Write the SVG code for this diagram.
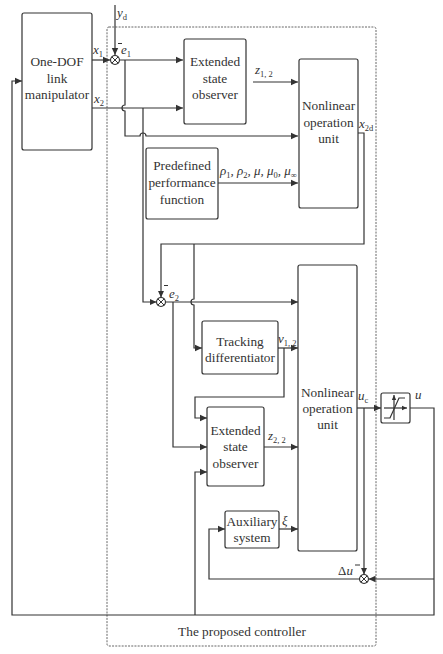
<svg xmlns="http://www.w3.org/2000/svg" width="443" height="654" viewBox="0 0 443 654" font-family="'Liberation Serif', 'Times New Roman', serif">
<style>
.box{fill:#fff;stroke:#333;stroke-width:1.2}
.ln{fill:none;stroke:#333;stroke-width:1.2}
.t{font-family:'Liberation Serif','Times New Roman',serif;font-size:13.3px;fill:#333;text-anchor:middle}
.m{font-family:'Liberation Serif','Times New Roman',serif;font-size:13px;fill:#333;font-style:italic}
.s{font-style:normal;font-size:8.5px;fill:#333}
.sum{fill:#fff;stroke:#333;stroke-width:1.1}
</style>
<defs>
<marker id="ar" markerUnits="userSpaceOnUse" markerWidth="8" markerHeight="8" viewBox="0 0 8 8" refX="7" refY="4" orient="auto">
<path d="M0,0.8 L7,4 L0,7.2 Z" fill="#333"/>
</marker>
<marker id="ars" markerUnits="userSpaceOnUse" markerWidth="6" markerHeight="6" viewBox="0 0 6 6" refX="5" refY="3" orient="auto">
<path d="M0,0.8 L5,3 L0,5.2 Z" fill="#333"/>
</marker>
<g id="sumsym">
<circle r="4.5" class="sum"/>
<path d="M-3.2,-3.2 L3.2,3.2 M-3.2,3.2 L3.2,-3.2" stroke="#333" stroke-width="1"/>
</g>
</defs>

<rect id="controller-boundary" x="107" y="27" width="269" height="619" rx="2" fill="none" stroke="#666" stroke-width="1" stroke-dasharray="2,1.2"/>
<text class="t" x="242" y="636">The proposed controller</text>

<g id="connectors">
<path class="ln" d="M115,5 V55" marker-end="url(#ar)"/>
<path class="ln" d="M92,60 H110" marker-end="url(#ar)"/>
<path class="ln" d="M119.5,60 H183" marker-end="url(#ar)"/>
<path class="ln" d="M92,108 H183" marker-end="url(#ar)"/>
<path class="ln" d="M125,60 V105 a3,3 0 0 0 0,6 V136 H140 a3,3 0 0 1 6,0 H298" marker-end="url(#ar)"/>
<path class="ln" d="M143,108 V302 H156.5" marker-end="url(#ar)"/>
<path class="ln" d="M253,82 H298" marker-end="url(#ar)"/>
<path class="ln" d="M218,183 H298" marker-end="url(#ar)"/>
<path class="ln" d="M358,133 H364 V244 H161 V297.5" marker-end="url(#ar)"/>
<path class="ln" d="M194,244 V299 a3,3 0 0 0 0,6 V348 H202" marker-end="url(#ar)"/>
<path class="ln" d="M165.5,302 H298" marker-end="url(#ar)"/>
<path class="ln" d="M173,302 V447 H207" marker-end="url(#ar)"/>
<path class="ln" d="M278,348 H298" marker-end="url(#ar)"/>
<path class="ln" d="M284,348 V397 H195 V418 H207" marker-end="url(#ar)"/>
<path class="ln" d="M264,447 H298" marker-end="url(#ar)"/>
<path class="ln" d="M195,615 V472 H207" marker-end="url(#ar)"/>
<path class="ln" d="M410,408 H434 V615 H12 V81 H22" marker-end="url(#ar)"/>
<path class="ln" d="M357,408 H381" marker-end="url(#ar)"/>
<path class="ln" d="M364,408 V574.5" marker-end="url(#ar)"/>
<path class="ln" d="M434,579 H368.5" marker-end="url(#ar)"/>
<path class="ln" d="M359.5,579 H209 V529 H225" marker-end="url(#ar)"/>
<path class="ln" d="M279,529 H298" marker-end="url(#ar)"/>
</g>

<g id="sum-e1"><use href="#sumsym" x="115" y="60"/></g>
<g id="sum-e2"><use href="#sumsym" x="161" y="302"/></g>
<g id="sum-du"><use href="#sumsym" x="364" y="579"/></g>

<g id="manipulator">
<rect class="box" x="22" y="13" width="70" height="137" rx="2"/>
<text class="t" x="57" y="66">One-DOF</text>
<text class="t" x="57" y="82.5">link</text>
<text class="t" x="57" y="99">manipulator</text>
</g>
<g id="eso1">
<rect class="box" x="184" y="39" width="62" height="85" rx="2"/>
<text class="t" x="215" y="66">Extended</text>
<text class="t" x="215" y="82.5">state</text>
<text class="t" x="215" y="99">observer</text>
</g>
<g id="nou1">
<rect class="box" x="299" y="59" width="59" height="149" rx="2"/>
<text class="t" x="328.5" y="110">Nonlinear</text>
<text class="t" x="328.5" y="126.5">operation</text>
<text class="t" x="328.5" y="143">unit</text>
</g>
<g id="ppf">
<rect class="box" x="146" y="148" width="72" height="71" rx="2"/>
<text class="t" x="182" y="170">Predefined</text>
<text class="t" x="182" y="187">performance</text>
<text class="t" x="182" y="203.5">function</text>
</g>
<g id="td">
<rect class="box" x="202" y="321" width="76" height="53" rx="2"/>
<text class="t" x="240" y="345.5">Tracking</text>
<text class="t" x="240" y="362">differentiator</text>
</g>
<g id="nou2">
<rect class="box" x="298" y="265" width="59" height="286" rx="2"/>
<text class="t" x="327.5" y="396.5">Nonlinear</text>
<text class="t" x="327.5" y="413">operation</text>
<text class="t" x="327.5" y="429">unit</text>
</g>
<g id="eso2">
<rect class="box" x="207" y="407" width="57" height="79" rx="2"/>
<text class="t" x="235.5" y="434.5">Extended</text>
<text class="t" x="235.5" y="451">state</text>
<text class="t" x="235.5" y="467.5">observer</text>
</g>
<g id="aux">
<rect class="box" x="225" y="511" width="54" height="37" rx="2"/>
<text class="t" x="252" y="525.5">Auxiliary</text>
<text class="t" x="252" y="542">system</text>
</g>
<g id="saturation">
<rect class="box" x="381" y="393" width="29" height="30" rx="2"/>
<path class="ln" d="M384,408 H407" stroke-width="1" marker-end="url(#ars)"/>
<path class="ln" d="M394,420 V395" stroke-width="1" marker-end="url(#ars)"/>
<path class="ln" d="M384,418 H390 L399,398 H405" stroke-width="1"/>
</g>

<g id="labels">
<text class="m" x="117" y="17">y<tspan class="s" dy="3">d</tspan></text>
<line x1="118" y1="43.5" x2="122" y2="43.5" stroke="#333" stroke-width="1"/>
<text class="m" x="121" y="54">e<tspan class="s" dy="3">1</tspan></text>
<text class="m" x="93" y="54">x<tspan class="s" dy="3">1</tspan></text>
<text class="m" x="94" y="103">x<tspan class="s" dy="3">2</tspan></text>
<text class="m" x="255" y="74">z<tspan class="s" dy="3">1, 2</tspan></text>
<text class="m" x="359" y="128">x<tspan class="s" dy="3">2d</tspan></text>
<text class="m" x="220" y="175" font-size="12">ρ<tspan class="s" dy="3">1</tspan><tspan dy="-3">, ρ</tspan><tspan class="s" dy="3">2</tspan><tspan dy="-3">, μ, μ</tspan><tspan class="s" dy="3">0</tspan><tspan dy="-3">, μ</tspan><tspan class="s" dy="3">∞</tspan></text>
<line x1="164" y1="285.5" x2="168" y2="285.5" stroke="#333" stroke-width="1"/>
<text class="m" x="169" y="298">e<tspan class="s" dy="3">2</tspan></text>
<text class="m" x="278" y="343">v<tspan class="s" dy="3">1, 2</tspan></text>
<text class="m" x="268" y="440">z<tspan class="s" dy="3">2, 2</tspan></text>
<text class="m" x="282" y="525">ξ</text>
<text class="m" x="358" y="400">u<tspan class="s" dy="3">c</tspan></text>
<text class="m" x="415" y="399">u</text>
<text class="m" x="338" y="575"><tspan font-style="normal">Δ</tspan>u</text>
<line x1="355" y1="565" x2="360" y2="565" stroke="#333" stroke-width="1"/>
</g>
</svg>
